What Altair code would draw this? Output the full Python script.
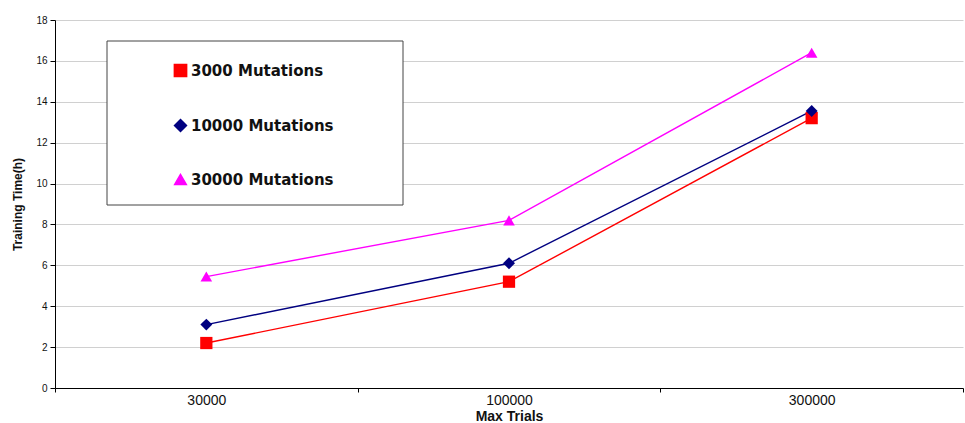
import altair as alt
import pandas as pd

# Training time (hours) per max-trials setting, one list per mutation count
trials = ["30000", "100000", "300000"]
series = ["3000 Mutations", "10000 Mutations", "30000 Mutations"]
hours_3000 = [2.2, 5.2, 13.2]
hours_10000 = [3.1, 6.1, 13.55]
hours_30000 = [5.45, 8.2, 16.4]
y_ticks = [0, 2, 4, 6, 8, 10, 12, 14, 16, 18]

colors = ["#ff0000", "#000080", "#ff00ff"]
marker_shapes = ["square", "diamond", "triangle-up"]
marker_sizes = [150, 135, 165]

rows = []
for name, vals in zip(series, [hours_3000, hours_10000, hours_30000]):
    for t, v in zip(trials, vals):
        rows.append({"trials": t, "series": name, "hours": v})
df = pd.DataFrame(rows)

x_enc = alt.X(
    "trials:O",
    sort=trials,
    bandPosition=0.5,
    scale=alt.Scale(type="band", domain=trials, paddingInner=0, paddingOuter=0),
    axis=alt.Axis(
        title="Max Trials",
        labelAngle=0,
        tickBand="extent",
        tickSize=4,
        tickColor="#000000",
        domainColor="#000000",
        grid=False,
        labelFont="Liberation Sans",
        labelFontSize=14,
        labelColor="#111111",
        labelPadding=1,
        titleFont="Liberation Sans",
        titleFontSize=14,
        titleFontWeight="bold",
        titleColor="#111111",
        titlePadding=2,
    ),
)
y_enc = alt.Y(
    "hours:Q",
    scale=alt.Scale(domain=[0, 18], nice=False),
    axis=alt.Axis(
        title="Training Time(h)",
        values=y_ticks,
        tickSize=5,
        tickColor="#000000",
        domainColor="#000000",
        gridColor="#d0d0d0",
        labelFont="Liberation Sans",
        labelFontSize=10,
        labelColor="#111111",
        labelPadding=3,
        titleFont="Liberation Sans",
        titleFontSize=12,
        titleFontWeight="bold",
        titleColor="#111111",
        titlePadding=11,
    ),
)

color_scale = alt.Scale(domain=series, range=colors)

legend_cfg = alt.Legend(
    title=None,
    orient="none",
    legendX=118,
    legendY=43,
    padding=0,
    rowPadding=36,
    direction="vertical",
    labelFont="DejaVu Sans",
    labelFontWeight="bold",
    labelFontSize=15,
    labelColor="#111111",
    labelOffset=3,
    symbolSize=80,
    symbolOpacity=1,
)

# legend frame, white so the grid does not show through
frame = alt.Chart(alt.Data(values=[{}])).mark_rect(
    fill="white", stroke="#444444", strokeWidth=1
).encode(
    x=alt.value(52), x2=alt.value(348), y=alt.value(21), y2=alt.value(185)
)

lines = alt.Chart(df).mark_line(strokeWidth=1.4).encode(
    x=x_enc,
    y=y_enc,
    color=alt.Color("series:N", scale=color_scale, legend=legend_cfg),
)

points = alt.Chart(df).mark_point(filled=True, opacity=1).encode(
    x=x_enc,
    y=y_enc,
    color=alt.Color("series:N", scale=color_scale, legend=legend_cfg),
    shape=alt.Shape(
        "series:N",
        scale=alt.Scale(domain=series, range=marker_shapes),
        legend=legend_cfg,
    ),
    size=alt.Size(
        "series:N",
        scale=alt.Scale(domain=series, range=marker_sizes),
        legend=None,
    ),
)

chart = (
    alt.layer(frame, lines, points)
    .properties(
        width=908,
        height=368,
        padding={"left": 55, "top": 20, "right": 2, "bottom": 35},
        autosize=alt.AutoSizeParams(type="none"),
        background="white",
    )
    .configure_view(stroke=None)
)

chart.save("out.html", embed_options={"renderer": "svg", "actions": False})
